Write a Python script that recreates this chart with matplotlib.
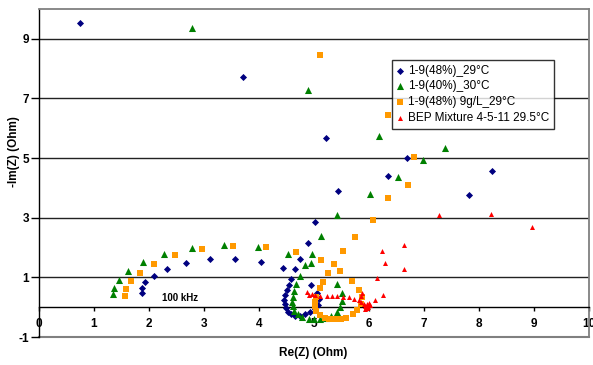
import matplotlib
matplotlib.use("Agg")
import matplotlib.pyplot as plt

plt.rcParams['font.family'] = ['Liberation Sans', 'DejaVu Sans']

labels = ["1-9(48%)_29°C", "1-9(40%)_30°C", "1-9(48%) 9g/L_29°C", "BEP Mixture 4-5-11 29.5°C"]

x1 = [0.75, 3.70, 5.22, 6.69, 8.24, 6.35, 7.82, 5.44, 5.02, 4.89, 4.75, 4.94, 5.06, 5.09, 5.07,
      5.01, 4.93, 4.84, 4.74, 4.66, 4.59, 4.53, 4.49, 4.47, 4.45, 4.47, 4.50, 4.54, 4.59, 4.66,
      4.44, 4.04, 3.57, 3.10, 2.67, 2.33, 2.09, 1.93, 1.87, 1.87]
y1 = [9.53, 7.72, 5.69, 4.99, 4.57, 4.39, 3.77, 3.89, 2.86, 2.14, 1.63, 0.76, 0.46, 0.26, 0.07,
      -0.06, -0.17, -0.24, -0.30, -0.29, -0.23, -0.16, -0.04, 0.09, 0.23, 0.40, 0.57, 0.74, 0.93, 1.27,
      1.32, 1.52, 1.63, 1.61, 1.48, 1.28, 1.04, 0.83, 0.65, 0.49]

x2 = [2.78, 4.89, 7.39, 6.18, 6.98, 6.53, 6.01, 5.42, 5.13, 4.96, 4.95, 4.84, 4.53, 5.42, 5.50,
      5.51, 5.47, 5.41, 5.30, 5.21, 5.11, 5.00, 4.90, 4.79, 4.70, 4.64, 4.61, 4.60, 4.61, 4.63,
      4.68, 4.75, 3.98, 3.37, 2.78, 2.27, 1.89, 1.62, 1.46, 1.37, 1.35]
y2 = [9.36, 7.29, 5.34, 5.75, 4.93, 4.37, 3.81, 3.09, 2.38, 1.80, 1.48, 1.42, 1.78, 0.77, 0.46,
      0.21, -0.01, -0.17, -0.29, -0.35, -0.39, -0.41, -0.39, -0.33, -0.24, -0.12, 0.03, 0.18, 0.35, 0.54,
      0.77, 1.05, 2.01, 2.09, 2.00, 1.78, 1.50, 1.20, 0.91, 0.66, 0.44]

x3 = [5.11, 6.34, 6.82, 6.70, 6.35, 6.07, 5.75, 5.52, 5.13, 5.36, 5.47, 5.25, 5.69, 5.16, 5.82,
      5.11, 5.87, 5.04, 5.02, 5.02, 5.04, 5.10, 5.20, 5.28, 5.38, 5.49, 5.59, 5.71, 5.79, 5.85,
      4.67, 4.12, 3.52, 2.96, 2.47, 2.09, 1.84, 1.67, 1.58, 1.56]
y3 = [8.46, 6.43, 5.04, 4.09, 3.67, 2.92, 2.36, 1.88, 1.58, 1.44, 1.23, 1.13, 0.89, 0.83, 0.58,
      0.63, 0.33, 0.35, 0.18, 0.03, -0.12, -0.27, -0.35, -0.39, -0.41, -0.39, -0.35, -0.23, -0.10, 0.10,
      1.86, 2.02, 2.06, 1.96, 1.74, 1.45, 1.15, 0.88, 0.61, 0.39]

x4 = [8.96, 8.22, 7.28, 6.64, 6.24, 6.29, 6.64, 6.14, 6.26, 6.11, 6.01, 5.99, 5.97, 5.95, 5.93,
      5.92, 5.96, 6.00, 5.90, 5.85, 5.88, 5.86, 5.81, 5.73, 5.64, 5.53, 5.42, 5.32, 5.23, 5.11,
      5.02, 4.96, 4.90, 4.87]
y4 = [2.69, 3.14, 3.08, 2.08, 1.87, 1.49, 1.29, 0.98, 0.40, 0.23, 0.08, 0.02, -0.03, 0.00, 0.05,
      -0.05, 0.12, 0.15, 0.10, 0.17, 0.46, 0.37, 0.23, 0.28, 0.33, 0.35, 0.37, 0.39, 0.39, 0.39,
      0.40, 0.44, 0.40, 0.51]

xticks = list(range(0, 11))
yticks = [-1, 1, 3, 5, 7, 9]

W, H = 593, 365
fig = plt.figure(figsize=(W / 100, H / 100), dpi=100)
ax = fig.add_axes([39 / W, (H - 337) / H, (589 - 39) / W, (337 - 9) / H])
ax.set_xlim(0, 10)
ax.set_ylim(-1, 10)

# gridlines
for yv in [1, 3, 5, 7, 9]:
    ax.axhline(yv, color='#222222', lw=1.0, zorder=1)
ax.axhline(-1, color='#808080', lw=1.5, zorder=1, clip_on=False)

ax.scatter(x1, y1, marker='D', s=13, color='#000080', linewidths=0, zorder=3, label=labels[0])
ax.scatter(x2, y2, marker='^', s=26, color='#008000', linewidths=0, zorder=3, label=labels[1])
ax.scatter(x3, y3, marker='s', s=13, color='#FF9900', linewidths=0, zorder=3, label=labels[2])
ax.scatter(x4, y4, marker='^', s=13, color='#FF0000', linewidths=0, zorder=3, label=labels[3])

ax.spines['bottom'].set_position(('data', 0))
ax.spines['bottom'].set_color('black')
ax.spines['bottom'].set_linewidth(1.0)
ax.spines['left'].set_color('black')
ax.spines['left'].set_linewidth(1.0)
for s in ['top', 'right']:
    ax.spines[s].set_color('#808080')
    ax.spines[s].set_linewidth(1.3)

ax.set_xticks(xticks)
ax.set_xticklabels([str(v) for v in xticks])
ax.set_yticks(yticks)
ax.set_yticklabels([str(v) for v in yticks])
ax.tick_params(axis='x', direction='out', length=3, width=1, pad=4.5, labelsize=8.5)
ax.tick_params(axis='y', direction='out', length=5.5, width=1, pad=1.5, labelsize=8.5)
for t in ax.get_xticklabels() + ax.get_yticklabels():
    t.set_fontweight('bold')

ax.text(2.23, 0.32, "100 kHz", fontsize=7, fontweight='bold', ha='left', va='center', zorder=4)

fig.text(313 / W, 1 - 353 / H, "Re(Z) (Ohm)", fontsize=8.5, fontweight='bold', ha='center', va='center')
fig.text(14 / W, 1 - 152 / H, "-Im(Z) (Ohm)", fontsize=8.5, fontweight='bold', ha='center', va='center',
         rotation=90)

leg = ax.legend(loc='upper left', bbox_to_anchor=(392 / W, 1 - 60 / H), bbox_transform=fig.transFigure,
                fontsize=8.5, frameon=True, fancybox=False, borderaxespad=0, borderpad=0.4,
                handlelength=0.6, handletextpad=0.35, labelspacing=0.32, scatterpoints=1)
leg.get_frame().set_edgecolor('black')
leg.get_frame().set_linewidth(1.0)
leg.set_zorder(5)

fig.savefig("out.png", dpi=100, facecolor='white')
